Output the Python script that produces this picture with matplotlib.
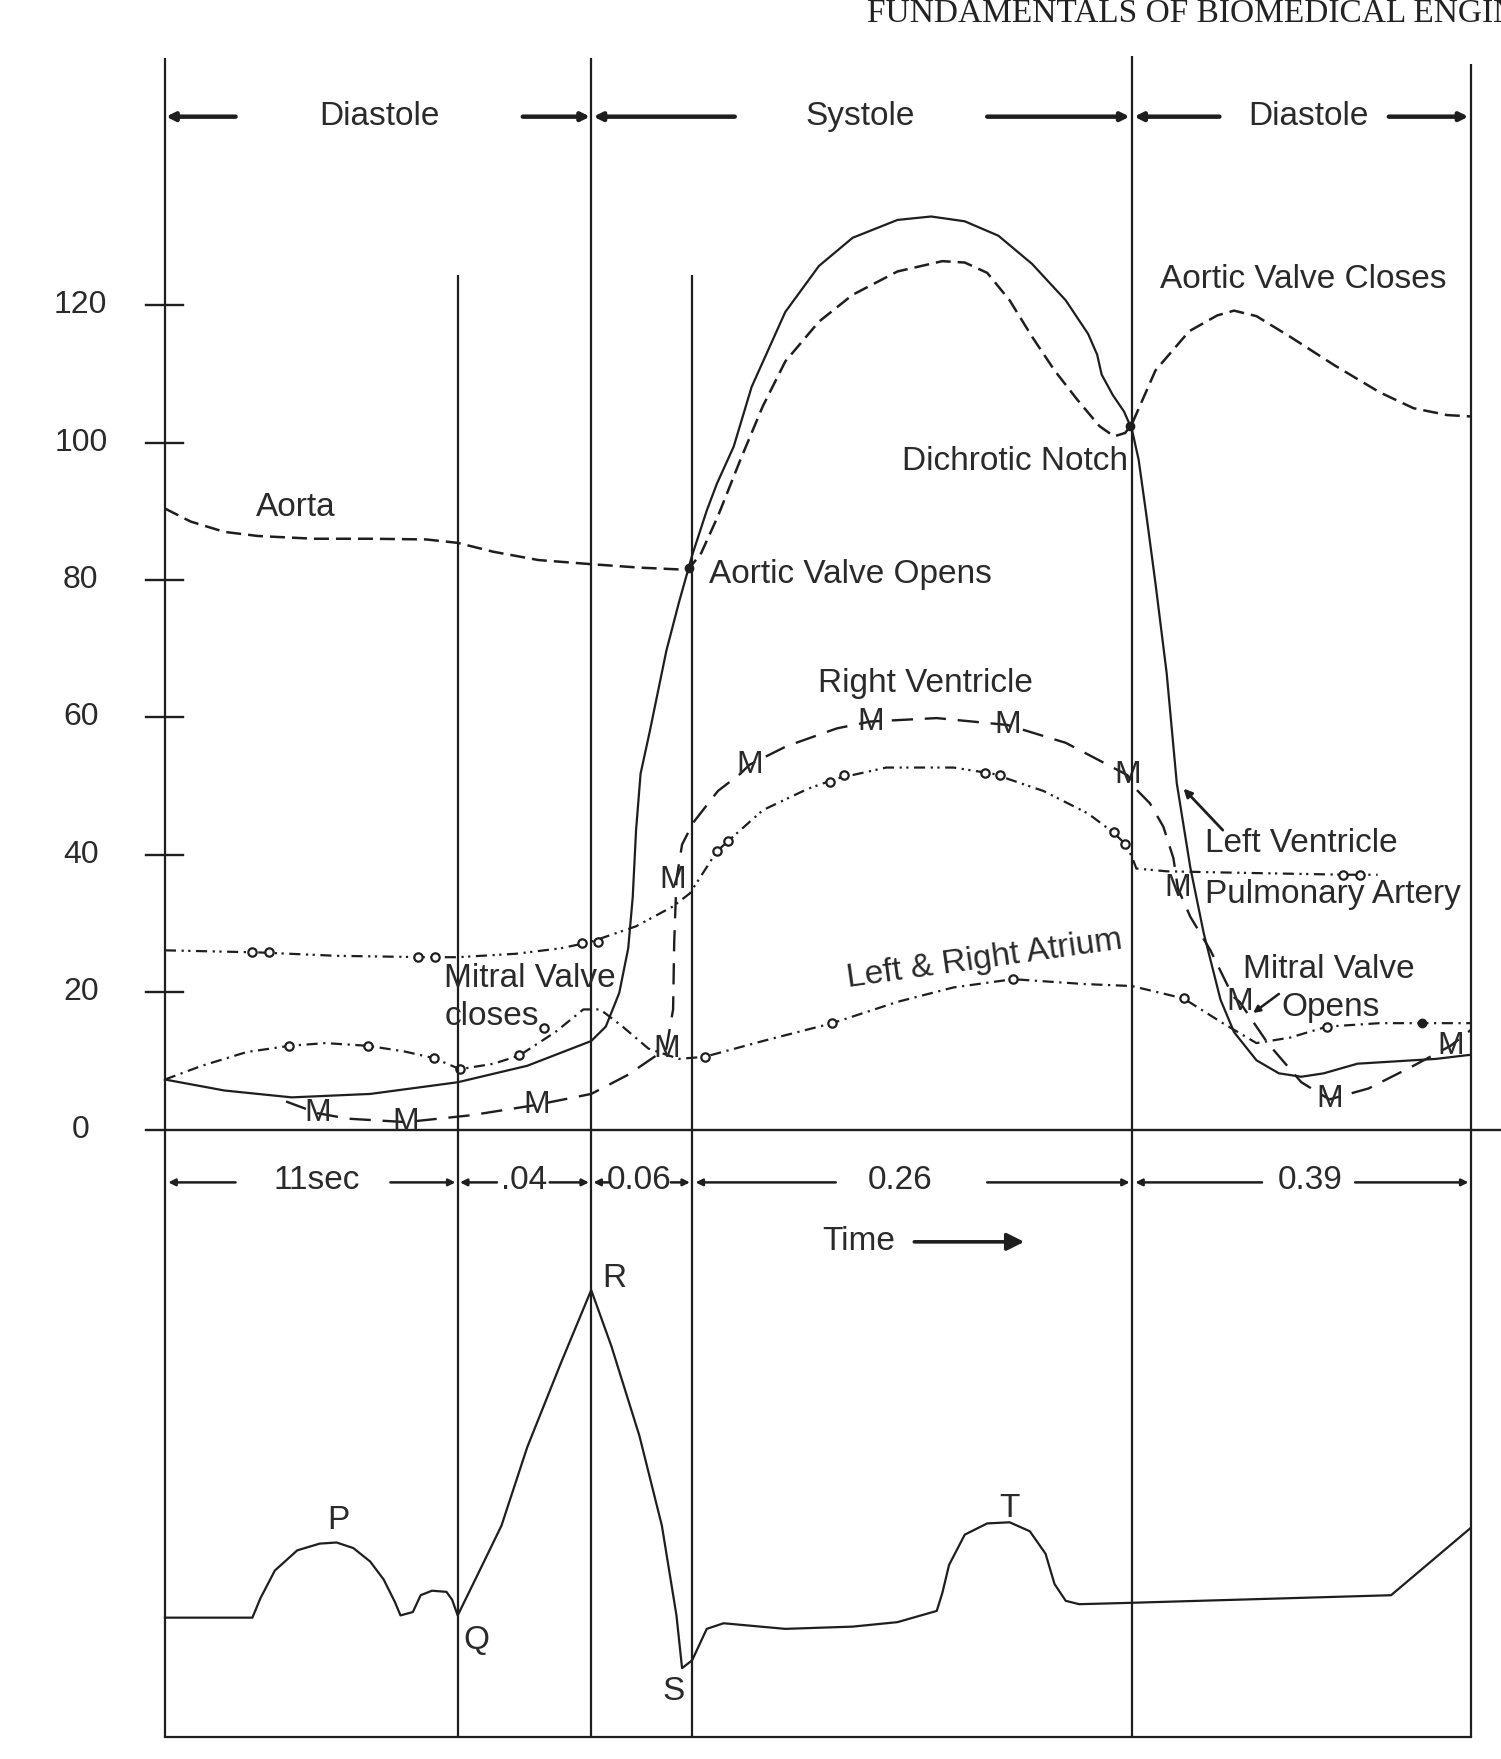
import matplotlib
matplotlib.use("Agg")
import matplotlib.pyplot as plt

# ---------------- data ----------------
# horizontal drawing position (arbitrary time units, not to scale)
boundaries = [147, 408, 527, 617, 1009, 1311]
boundary_tops = [52, 245, 52, 245, 50, 57]

pressure_ticks = [0, 20, 40, 60, 80, 100, 120]

# Aorta (mmHg)
aorta_x = [147, 170, 200, 230, 280, 330, 380, 408, 440, 480, 527, 570, 610, 614,
           625, 640, 660, 680, 700, 730, 760, 800, 840, 860, 880, 900, 920, 940,
           960, 980, 993, 1003, 1009, 1030, 1060, 1085, 1100, 1120, 1150, 1190,
           1230, 1260, 1290, 1311]
aorta_p = [90.4, 88.5, 87.0, 86.4, 86.0, 86.0, 85.9, 85.4, 84.1, 82.9, 82.3, 81.8,
           81.5, 81.6, 83.9, 89.3, 97.5, 105.3, 111.8, 117.6, 121.5, 124.9, 126.4,
           126.2, 124.7, 120.7, 115.4, 110.5, 106.3, 102.4, 100.9, 101.4, 102.7,
           110.5, 116.2, 118.5, 119.2, 118.4, 115.4, 111.2, 107.3, 105.0, 104.0, 103.8]

# Left ventricle (mmHg)
lv_x = [147, 200, 260, 330, 408, 470, 527, 540, 552, 560, 564, 567, 571, 579, 594,
        605, 617, 630, 639, 654, 670, 700, 730, 760, 800, 830, 860, 890, 920, 950,
        970, 978, 982, 992, 1002, 1009, 1015, 1022, 1030, 1040, 1049, 1061, 1073,
        1088, 1100, 1120, 1140, 1160, 1180, 1210, 1250, 1280, 1311]
lv_p = [7.3, 5.7, 4.7, 5.2, 6.9, 9.3, 12.9, 15.0, 19.9, 26.4, 33.8, 43.6, 51.8,
        57.8, 69.7, 76.6, 83.6, 90.1, 94.0, 99.4, 108.1, 119.0, 125.7, 129.8, 132.4,
        132.9, 132.2, 130.1, 126.0, 120.7, 115.8, 112.8, 109.9, 106.9, 104.5, 101.9,
        97.5, 89.3, 79.5, 66.4, 50.4, 38.2, 28.6, 18.9, 14.2, 10.1, 8.2, 7.7, 8.2,
        9.6, 10.0, 10.3, 10.9]

# Right ventricle (mmHg)
rv_x = [255, 283, 310, 362, 420, 478, 527, 560, 594, 600, 601, 603, 608, 618, 640,
        660, 668, 701, 746, 776, 835, 898, 950, 1005, 1013, 1025, 1037, 1046, 1050,
        1061, 1079, 1099, 1105, 1130, 1160, 1185, 1220, 1260, 1293, 1311]
rv_p = [4.1, 2.4, 1.6, 1.1, 2.1, 3.6, 5.2, 8.0, 11.8, 17.5, 27.3, 36.4, 41.5, 44.7,
        49.3, 51.8, 53.1, 55.8, 58.4, 59.4, 59.9, 58.9, 56.3, 51.6, 49.5, 47.5, 44.1,
        39.5, 35.1, 31.0, 26.1, 19.4, 18.6, 12.6, 6.9, 4.4, 6.0, 9.3, 12.2, 14.5]
rv_mark_x = [283, 362, 478, 594, 600, 668, 776, 898, 1005, 1050, 1105, 1185, 1293]
rv_mark_p = [2.4, 1.1, 3.6, 11.8, 36.4, 53.1, 59.4, 58.9, 51.6, 35.1, 18.6, 4.4, 12.2]

# Pulmonary artery (mmHg)
pa_x = [147, 230, 300, 380, 408, 460, 500, 526, 567, 600, 615, 639, 649, 680, 720,
        746, 790, 850, 885, 930, 970, 992, 1003, 1009, 1013, 1040, 1100, 1200, 1228]
pa_p = [26.1, 25.8, 25.3, 25.1, 25.1, 25.6, 26.4, 27.3, 29.6, 32.5, 34.4, 40.5, 42.0,
        46.5, 49.6, 51.1, 52.7, 52.7, 51.8, 49.3, 46.0, 43.3, 41.6, 39.7, 38.0, 37.6,
        37.4, 37.1, 37.1]
pa_mark_x = [225, 240, 373, 388, 519, 533, 639, 649, 740, 752, 878, 891, 993, 1003, 1197, 1212]
pa_mark_p = [25.8, 25.8, 25.1, 25.1, 27.1, 27.3, 40.5, 42.0, 50.6, 51.6, 51.9, 51.6,
             43.3, 41.6, 37.1, 37.1]

# Left & right atrium (mmHg)
la_x = [147, 180, 220, 258, 290, 328, 360, 387, 410, 440, 463, 495, 520, 535, 555,
        578, 605, 628, 680, 742, 800, 850, 903, 966, 1009, 1055, 1090, 1120, 1150,
        1183, 1230, 1268, 1311]
la_p = [7.3, 9.3, 11.3, 12.2, 12.6, 12.2, 11.4, 10.4, 8.8, 9.6, 10.8, 14.2, 17.5,
        17.5, 15.0, 11.8, 10.3, 10.6, 12.9, 15.5, 18.6, 20.7, 21.9, 21.2, 20.9, 19.1,
        15.5, 12.6, 13.4, 15.0, 15.5, 15.5, 15.5]
la_mark_x = [258, 328, 387, 410, 463, 628, 742, 903, 1055, 1183]
la_mark_p = [12.2, 12.2, 10.4, 8.8, 10.8, 10.6, 15.5, 21.9, 19.1, 15.0]

# valve events (mmHg)
event_x = [614, 1007, 1268]
event_p = [81.8, 102.4, 15.5]

# ECG (mV)
ecg_x = [147, 225, 232, 245, 265, 285, 300, 315, 330, 342, 352, 357, 368, 375, 385,
         398, 403, 408, 430, 447, 470, 500, 527, 545, 570, 590, 603, 608, 617, 630,
         645, 700, 760, 800, 835, 840, 846, 860, 880, 900, 918, 932, 940, 950, 962,
         1000, 1240, 1311]
ecg_v = [0, 0, 0.068, 0.168, 0.24, 0.264, 0.268, 0.248, 0.2, 0.136, 0.056, 0.008,
         0.02, 0.08, 0.096, 0.092, 0.064, 0.008, 0.188, 0.328, 0.608, 0.908, 1.168,
         0.968, 0.648, 0.328, 0.008, -0.18, -0.152, -0.04, -0.02, -0.04, -0.032,
         -0.016, 0.024, 0.088, 0.188, 0.296, 0.336, 0.34, 0.308, 0.228, 0.12, 0.06,
         0.048, 0.052, 0.08, 0.32]

phase_labels = ["Diastole", "Systole", "Diastole"]
interval_labels = ["11sec", ".04", "0.06", "0.26", "0.39"]

# ---------------- layout ----------------
W, H = 1338, 1568
fig = plt.figure(figsize=(15.01, 17.59), dpi=100)
fig.patch.set_facecolor("white")

INK = "#1e1e1e"
TXT = "#2a2a2a"
FONT = "Liberation Sans"
FS = 24

def full_axes(ylim):
    ax = fig.add_axes([0, 0, 1, 1])
    ax.set_xlim(0, W)
    ax.set_ylim(*ylim)
    ax.axis("off")
    ax.patch.set_alpha(0)
    return ax

# pressure axes: 0 mmHg at y=1007 px, 6.125 px per mmHg
ax_p = full_axes(((1007 - H) / 6.125, 1007 / 6.125))
# ECG axes: 0 mV at y=1442 px, 250 px per mV
ax_e = full_axes(((1442 - H) / 250.0, 1442 / 250.0))
# annotation axes in figure pixels
ax_a = full_axes((H, 0))

# structure lines
for bx, top in zip(boundaries, boundary_tops):
    ax_a.plot([bx, bx], [top, 1548], color=INK, lw=1.6, solid_capstyle="butt")
ax_a.plot([boundaries[0], boundaries[-1]], [1548, 1548], color=INK, lw=1.6)
ax_p.plot([130, W], [0, 0], color=INK, lw=1.7)

for t in pressure_ticks[1:]:
    ax_p.plot([130, 163], [t, t], color=INK, lw=1.7)
for t in pressure_ticks:
    ax_p.text(72, t, str(t), ha="center", va="center", fontsize=23,
              family=FONT, color=TXT)

# curves
ax_p.plot(aorta_x, aorta_p, color=INK, lw=1.8, dashes=(6, 2.8))
ax_p.plot(lv_x, lv_p, color=INK, lw=1.6)
ax_p.plot(rv_x, rv_p, color=INK, lw=1.7, dashes=(9, 5))
ax_p.plot(pa_x, pa_p, color=INK, lw=1.6, dashes=(5, 2.5, 1, 2, 1, 2.5))
ax_p.plot(la_x, la_p, color=INK, lw=1.6, dashes=(5, 2.5, 1, 2.5))
ax_p.plot(pa_mark_x, pa_mark_p, ls="none", marker="o", ms=6, mfc="white",
          mec=INK, mew=1.6)
ax_p.plot(la_mark_x, la_mark_p, ls="none", marker="o", ms=6, mfc="white",
          mec=INK, mew=1.6)
ax_p.plot(event_x, event_p, ls="none", marker="o", ms=6, color=INK)
for mx, mp in zip(rv_mark_x, rv_mark_p):
    ax_p.text(mx, mp, "M", ha="center", va="center", fontsize=23, family=FONT,
              color=TXT)

ax_e.plot(ecg_x, ecg_v, color=INK, lw=1.6)

# ---------------- annotations ----------------
def arrow(tail, tip, lw=2.4, ms=14):
    ax_a.annotate("", xy=tip, xytext=tail,
                  arrowprops=dict(arrowstyle="-|>", color=INK, lw=lw,
                                  mutation_scale=ms, shrinkA=0, shrinkB=0))

def label(x, y, s, ha="center", fs=FS, **kw):
    ax_a.text(x, y, s, ha=ha, va="center", fontsize=fs, family=FONT,
              color=TXT, **kw)

ax_a.text(773, 20, "FUNDAMENTALS OF BIOMEDICAL ENGINEERING", ha="left",
          va="baseline", fontsize=24, family="Liberation Serif", color="#222222")

for s, cx in zip(phase_labels, [338, 767, 1166]):
    label(cx, 104, s)
for tail, tip in [((210, 104), (148, 104)), ((466, 104), (526, 104)),
                  ((655, 104), (529, 104)), ((880, 104), (1007, 104)),
                  ((1087, 104), (1011, 104)), ((1238, 104), (1309, 104))]:
    arrow(tail, tip, lw=3.2, ms=12)

for s, cx in zip(interval_labels, [282, 467, 570, 802, 1168]):
    label(cx, 1052, s)
for tail, tip in [((210, 1054), (150, 1054)), ((348, 1054), (406, 1054)),
                  ((443, 1054), (410, 1054)), ((490, 1054), (525, 1054)),
                  ((543, 1054), (529, 1054)), ((598, 1054), (615, 1054)),
                  ((745, 1054), (620, 1054)), ((880, 1054), (1007, 1054)),
                  ((1125, 1054), (1012, 1054)), ((1208, 1054), (1309, 1054))]:
    arrow(tail, tip, lw=1.8, ms=10)

label(765, 1107, "Time")
arrow((815, 1107), (913, 1107), lw=2.6, ms=26)

label(264, 452, "Aorta")
label(1162, 249, "Aortic Valve Closes")
label(905, 411, "Dichrotic Notch")
label(632, 512, "Aortic Valve Opens", ha="left")
label(825, 609, "Right Ventricle")
label(1074, 752, "Left Ventricle", ha="left")
label(1074, 797, "Pulmonary Artery", ha="left")
label(396, 872, "Mitral Valve", ha="left")
label(396, 906, "closes", ha="left")
ax_a.plot([485], [916], ls="none", marker="o", ms=6, mfc="white", mec=INK, mew=1.6)
label(878, 855, "Left & Right Atrium", rotation=8, rotation_mode="anchor")
label(1108, 864, "Mitral Valve", ha="left")
label(1142, 898, "Opens", ha="left")
arrow((1140, 886), (1117, 903), lw=1.8, ms=10)
arrow((1090, 740), (1055, 703), lw=2.0, ms=12)

label(302, 1355, "P")
label(425, 1462, "Q")
label(548, 1140, "R")
label(600, 1508, "S")
label(900, 1345, "T")

fig.savefig("out.png", dpi=100, facecolor="white")
